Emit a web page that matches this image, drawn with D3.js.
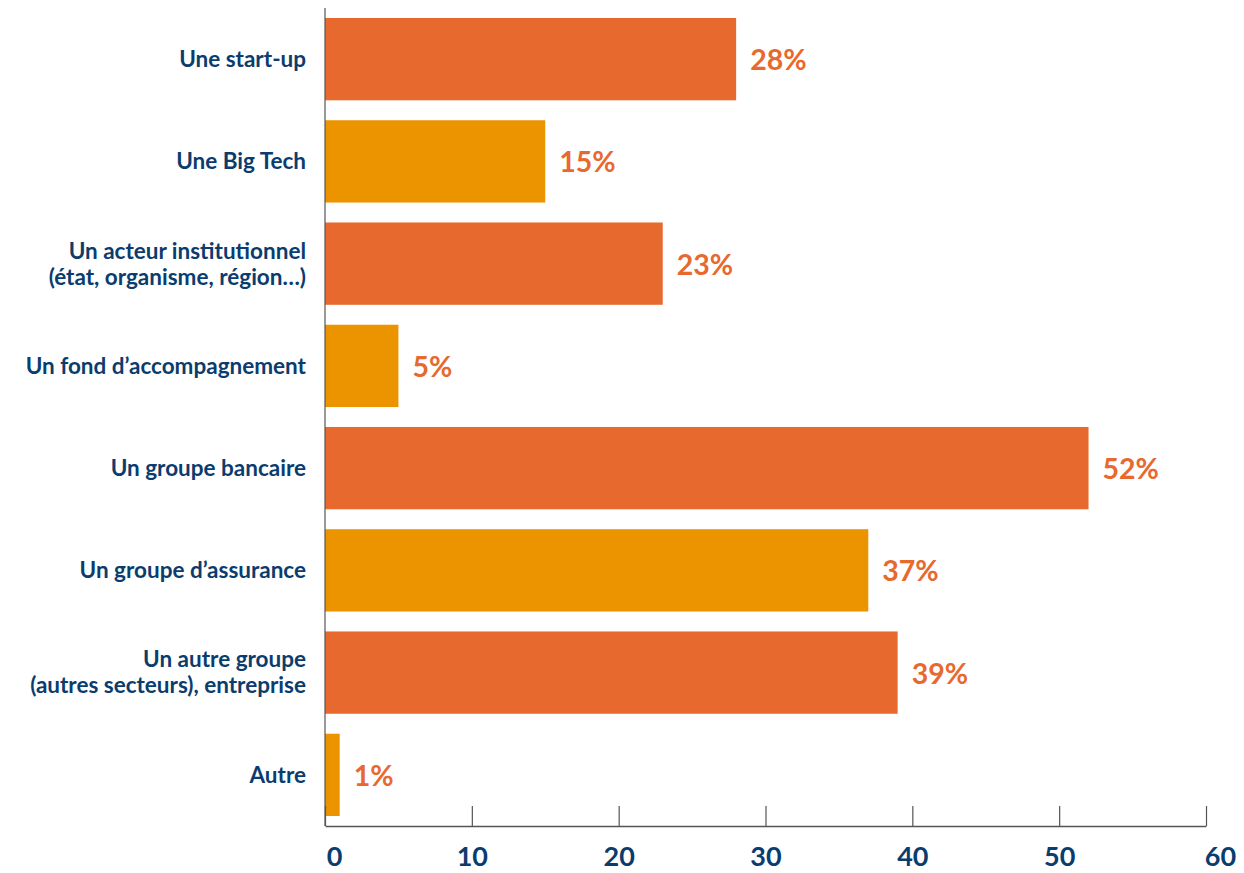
<!DOCTYPE html>
<html>
<head>
<meta charset="utf-8">
<script src="https://cdn.jsdelivr.net/npm/d3@7"></script>
<style>
  body { margin: 0; background: #fff; }
  svg text { font-family: Lato, "Open Sans", sans-serif; font-weight: bold; }
</style>
</head>
<body>
<div id="chart"></div>
<script>
// Catégories (lignes multiples séparées par \n)
const categories = [
  "Une start-up",
  "Une Big Tech",
  "Un acteur institutionnel\n(état, organisme, région…)",
  "Un fond d’accompagnement",
  "Un groupe bancaire",
  "Un groupe d’assurance",
  "Un autre groupe\n(autres secteurs), entreprise",
  "Autre"
]
// Valeurs en %
const values = [28, 15, 23, 5, 52, 37, 39, 1]
// Graduations de l'axe
const ticks = [0, 10, 20, 30, 40, 50, 60]

const barColors = ["#E8692D", "#EC9400"]
const navy = "#0B3C6E"

const widthRect = 1244
const heightRect = 873
const margin = { top: 18, right: 38, bottom: 47, left: 325 }

const svg = d3.select("#chart")
  .append("svg")
  .attr("width", widthRect)
  .attr("height", heightRect)

const x = d3.scaleLinear()
  .domain([0, 60])
  .range([margin.left, widthRect - margin.right])

const y = d3.scaleBand()
  .domain(categories)
  .range([margin.top, 816])
  .paddingInner(0.195)
  .paddingOuter(0)

const axisY = heightRect - margin.bottom

// Barres
svg.append("g")
  .selectAll("rect")
  .data(values)
  .join("rect")
  .attr("x", x(0))
  .attr("y", (d, i) => y(categories[i]))
  .attr("width", d => x(d) - x(0))
  .attr("height", y.bandwidth())
  .attr("fill", (d, i) => barColors[i % 2])

// Axe vertical
svg.append("line")
  .attr("x1", x(0)).attr("x2", x(0))
  .attr("y1", 8).attr("y2", axisY)
  .attr("stroke", "#555").attr("stroke-width", 1.2)

// Axe horizontal avec graduations vers le haut
const xAxis = svg.append("g")
  .attr("transform", "translate(0," + axisY + ")")
  .call(d3.axisBottom(x).tickValues(ticks).tickSize(-20).tickPadding(20).tickSizeOuter(0))
xAxis.select(".domain").attr("stroke", "#555").attr("stroke-width", 1.5)
xAxis.selectAll(".tick line").attr("stroke", "#555").attr("stroke-width", 1.2)
xAxis.selectAll(".tick text")
  .attr("fill", navy)
  .attr("font-size", 27)
  .attr("font-family", "Lato, sans-serif")
  .attr("font-weight", "bold")
  .attr("y", 21)
  .attr("dy", "0.71em")
  .attr("dx", (d, i) => i === 0 ? 9 : (i === ticks.length - 1 ? 14 : 0))

// Étiquettes des catégories
const labels = svg.append("g")
  .selectAll("text")
  .data(categories)
  .join("text")
  .attr("text-anchor", "end")
  .attr("fill", navy)
  .attr("font-size", 22.5)
  .attr("transform", d => "translate(306," + (y(d) + y.bandwidth() / 2) + ")")

labels.each(function (d) {
  const lines = d.split("\n")
  const lh = 26
  const offset = -((lines.length - 1) * lh) / 2
  lines.forEach((line, j) => {
    d3.select(this).append("tspan")
      .attr("x", 0)
      .attr("y", offset + j * lh)
      .attr("dy", "0.35em")
      .text(line)
  })
})

// Valeurs
svg.append("g")
  .selectAll("text")
  .data(values)
  .join("text")
  .attr("x", d => x(d) + 14)
  .attr("y", (d, i) => y(categories[i]) + y.bandwidth() / 2 + 1)
  .attr("dy", "0.35em")
  .attr("fill", "#E8692D")
  .attr("font-size", 28.5)
  .text(d => d + "%")
</script>
</body>
</html>
